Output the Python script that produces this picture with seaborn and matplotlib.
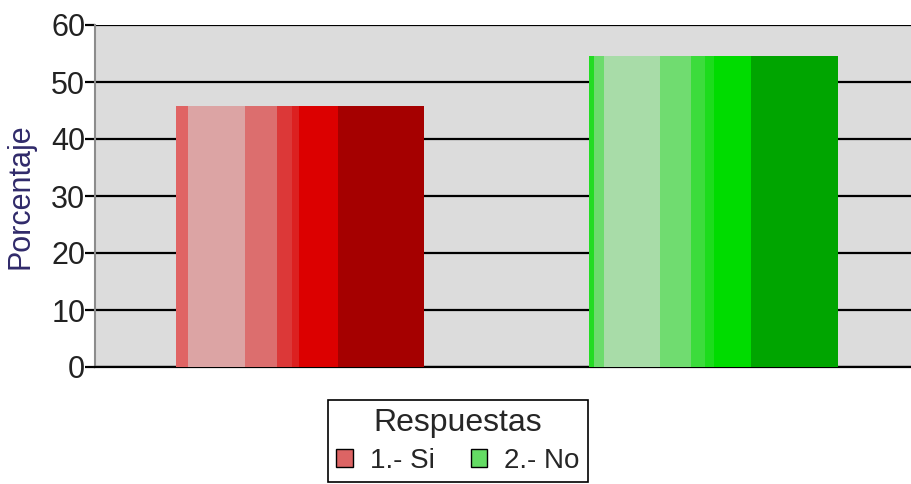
import numpy as np
import matplotlib
matplotlib.use('Agg')
import matplotlib.pyplot as plt
from matplotlib.patches import Rectangle, Patch
import seaborn as sns

# data
categorias = ['1.- Si', '2.- No']
porcentajes = [45.8, 54.6]
y_ticks = [0, 10, 20, 30, 40, 50, 60]

# vertical shading stripes inside each bar (fraction of bar width, colour)
red_edges = [0, 0.048, 0.278, 0.407, 0.468, 0.496, 0.653, 1.0]
red_cols = ['#e06464', '#dca4a4', '#dc6e6e', '#dc3838', '#dc2020', '#dc0000', '#a50000']
green_edges = [0, 0.020, 0.060, 0.283, 0.410, 0.466, 0.502, 0.653, 1.0]
green_cols = ['#22dc22', '#6cdc6c', '#a8dca8', '#70dc70', '#3cdc3c', '#1cdc1c', '#00dc00', '#00a500']
legend_cols = ['#dc6464', '#64dc64']

sns.set_style('white')
plt.rcParams['font.family'] = ['Liberation Sans', 'DejaVu Sans']

fig = plt.figure(figsize=(9.12, 4.84), dpi=100)
ax = fig.add_axes([95/912, 1-367/484, 1-95/912, (367-25)/484])
ax.set_facecolor('#dcdcdc')

sns.barplot(x=categorias, y=porcentajes, hue=categorias, palette=['#a50000', '#00a500'],
            width=0.6, legend=False, ax=ax, zorder=2, linewidth=0)

for patch, edges, cols in zip(ax.patches, [red_edges, green_edges], [red_cols, green_cols]):
    x0, w, h = patch.get_x(), patch.get_width(), patch.get_height()
    for i, c in enumerate(cols):
        ax.add_patch(Rectangle((x0 + edges[i]*w, 0), (edges[i+1]-edges[i])*w, h,
                               facecolor=c, edgecolor='none', zorder=3))

ax.set_xlim(-0.496, 1.48)
ax.set_ylim(0, 60)
ax.set_yticks(y_ticks)
ax.set_xticks([])
ax.yaxis.grid(True, color='black', linewidth=1.6, zorder=1)
ax.set_axisbelow(True)
for s in ['top', 'right']:
    ax.spines[s].set_visible(False)
ax.spines['left'].set_color('#8c8c8c')
ax.spines['left'].set_linewidth(1.5)
ax.spines['bottom'].set_color('black')
ax.spines['bottom'].set_linewidth(1.6)
ax.tick_params(axis='y', left=True, length=7, width=1.6, color='black',
               labelsize=22, labelcolor='#222222', pad=0)
ax.set_ylabel('Porcentaje', fontsize=22, color='#302a6a', labelpad=11)
ax.set_xlabel('')

handles = [Patch(facecolor=c, edgecolor='black', linewidth=1) for c in legend_cols]
leg = fig.legend(handles, categorias, title='Respuestas', ncol=2, loc='upper center',
                 bbox_to_anchor=(0.502, 1-400/484), fontsize=20, title_fontsize=23,
                 frameon=True, fancybox=False, edgecolor='black', framealpha=1,
                 handlelength=0.6, handleheight=0.6, handletextpad=0.6,
                 columnspacing=1.3, borderpad=0.3, labelspacing=0.35,
                 borderaxespad=0)
leg.get_frame().set_linewidth(1.2)

fig.savefig('out.png', dpi=100)
